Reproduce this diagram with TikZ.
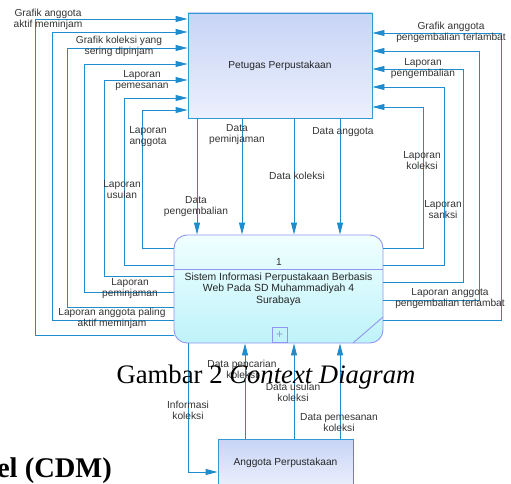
\documentclass[tikz,border=0pt]{standalone}
\usepackage{fontspec}
\setmainfont{Liberation Serif}
\setsansfont{Liberation Sans}
\usetikzlibrary{positioning,fit,calc,arrows.meta,shapes}

\definecolor{flowblue}{HTML}{1F8DCD}
\definecolor{entityline}{HTML}{3399D6}
\definecolor{processline}{HTML}{9494F2}

\tikzset{
 entity/.style={draw=entityline, line width=0.9pt, top color={rgb,255:red,199;green,212;blue,245}, bottom color={rgb,255:red,236;green,240;blue,253}, minimum width=184pt, minimum height=105pt, inner sep=0pt, font=\sffamily\fontsize{10.2}{11}\selectfont, text=black!85},
 process/.style={draw=processline, line width=0.9pt, rounded corners=13pt, top color={rgb,255:red,240;green,255;blue,255}, bottom color={rgb,255:red,190;green,243;blue,250}, minimum width=209pt, minimum height=108pt, inner sep=0pt, align=center, font=\sffamily\fontsize{10.4}{11.5}\selectfont, text=black!85},
 flow/.style={draw=flowblue, line width=0.9pt, -{Triangle[length=12pt,width=6pt]}},
 lbl/.style={align=center, inner sep=0pt, font=\sffamily\fontsize{10.2}{11}\selectfont, text=black!80}
}

\begin{document}
\begin{tikzpicture}[x=1pt,y=-1pt]
 	\useasboundingbox (0,0) rectangle (511,484);

 	% Entities and process
 	\node[entity] (petugas) at (280,65.5) {Petugas Perpustakaan};
 	\node[process] (sistem) at (278.5,289) {Sistem Informasi Perpustakaan Berbasis\\Web Pada SD Muhammadiyah 4\\Surabaya};
 	\node[entity, minimum width=135pt, minimum height=48pt] (anggota) at (285.5,463) {Anggota Perpustakaan};

 	\node[lbl] (nomor) at (279,262) {1};
 	\draw[processline, line width=0.9pt] (sistem.west |- 0,269) -- (sistem.east |- 0,269);
 	\draw[processline, line width=0.9pt] (353,343) -- (383,317);
 	\node[draw=processline, line width=0.9pt, minimum size=15pt, inner sep=0pt, text=processline, font=\sffamily\fontsize{12}{12}\selectfont, anchor=south] (tanda) at (279.5,343) {+};

 	% Flows to petugas, left side
 	\foreach \ya/\xa/\yb in {335/35/19, 320/52/32, 307/67/48, 292/84/64, 276/104/80, 265/124/98, 248/142/110}
 	 	\draw[flow] (sistem.west |- 0,\ya) -| (\xa,\yb) -- (petugas.west |- 0,\yb);

 	% Flows to petugas, right side
 	\foreach \ya/\xa/\yb in {320/501/33, 300/479/51, 282/463/69, 265/444/87, 248/423/107}
 	 	\draw[flow] (sistem.east |- 0,\ya) -| (\xa,\yb) -- (petugas.east |- 0,\yb);

 	% Flows from petugas
 	\foreach \xa in {197,242,294,340}
 	 	\draw[flow] (petugas.south -| \xa,0) -- (sistem.north -| \xa,0);

 	% Flows from anggota
 	\foreach \xa in {245,294,340}
 	 	\draw[flow] (anggota.north -| \xa,0) -- (sistem.south -| \xa,0);
 	\draw[flow] (sistem.south -| 188,0) |- (anggota.west |- 0,472);

 	% Labels
 	\node[lbl] at (48,19.5) {Grafik anggota\\aktif meminjam};
 	\node[lbl] at (119,46.5) {Grafik koleksi yang\\sering dipinjam};
 	\node[lbl] at (142,80.5) {Laporan\\pemesanan};
 	\node[lbl] at (148,136.5) {Laporan\\anggota};
 	\node[lbl] at (122,189.5) {Laporan\\usulan};
 	\node[lbl] at (130,288.5) {Laporan\\peminjaman};
 	\node[lbl] at (112,318.5) {Laporan anggota paling\\aktif meminjam};
 	\node[lbl] at (451,32.5) {Grafik anggota\\pengembalian terlambat};
 	\node[lbl] at (423,69) {Laporan\\pengembalian};
 	\node[lbl] at (422,160.5) {Laporan\\koleksi};
 	\node[lbl] at (443,209.5) {Laporan\\sanksi};
 	\node[lbl] at (450,298.5) {Laporan anggota\\pengembalian terlambat};
 	\node[lbl] at (237,134.5) {Data\\peminjaman};
 	\node[lbl] at (196,206.5) {Data\\pengembalian};
 	\node[lbl] at (297,176) {Data koleksi};
 	\node[lbl] at (343,132) {Data anggota};
 	\node[lbl] at (242,369) {Data pencarian\\koleksi};
 	\node[lbl] at (293,392) {Data usulan\\koleksi};
 	\node[lbl] at (188,410) {Informasi\\koleksi};
 	\node[lbl] at (339,423) {Data pemesanan\\koleksi};

 	% Page text
 	\node[anchor=base, inner sep=0pt, font=\fontsize{26.7}{27}\selectfont] (judul) at (266,383) {Gambar 2 \textit{Context Diagram}};
 	\node[anchor=base east, inner sep=0pt, font=\bfseries\fontsize{28.5}{29}\selectfont] (bab) at (112,477) {el (CDM)};
\end{tikzpicture}
\end{document}
